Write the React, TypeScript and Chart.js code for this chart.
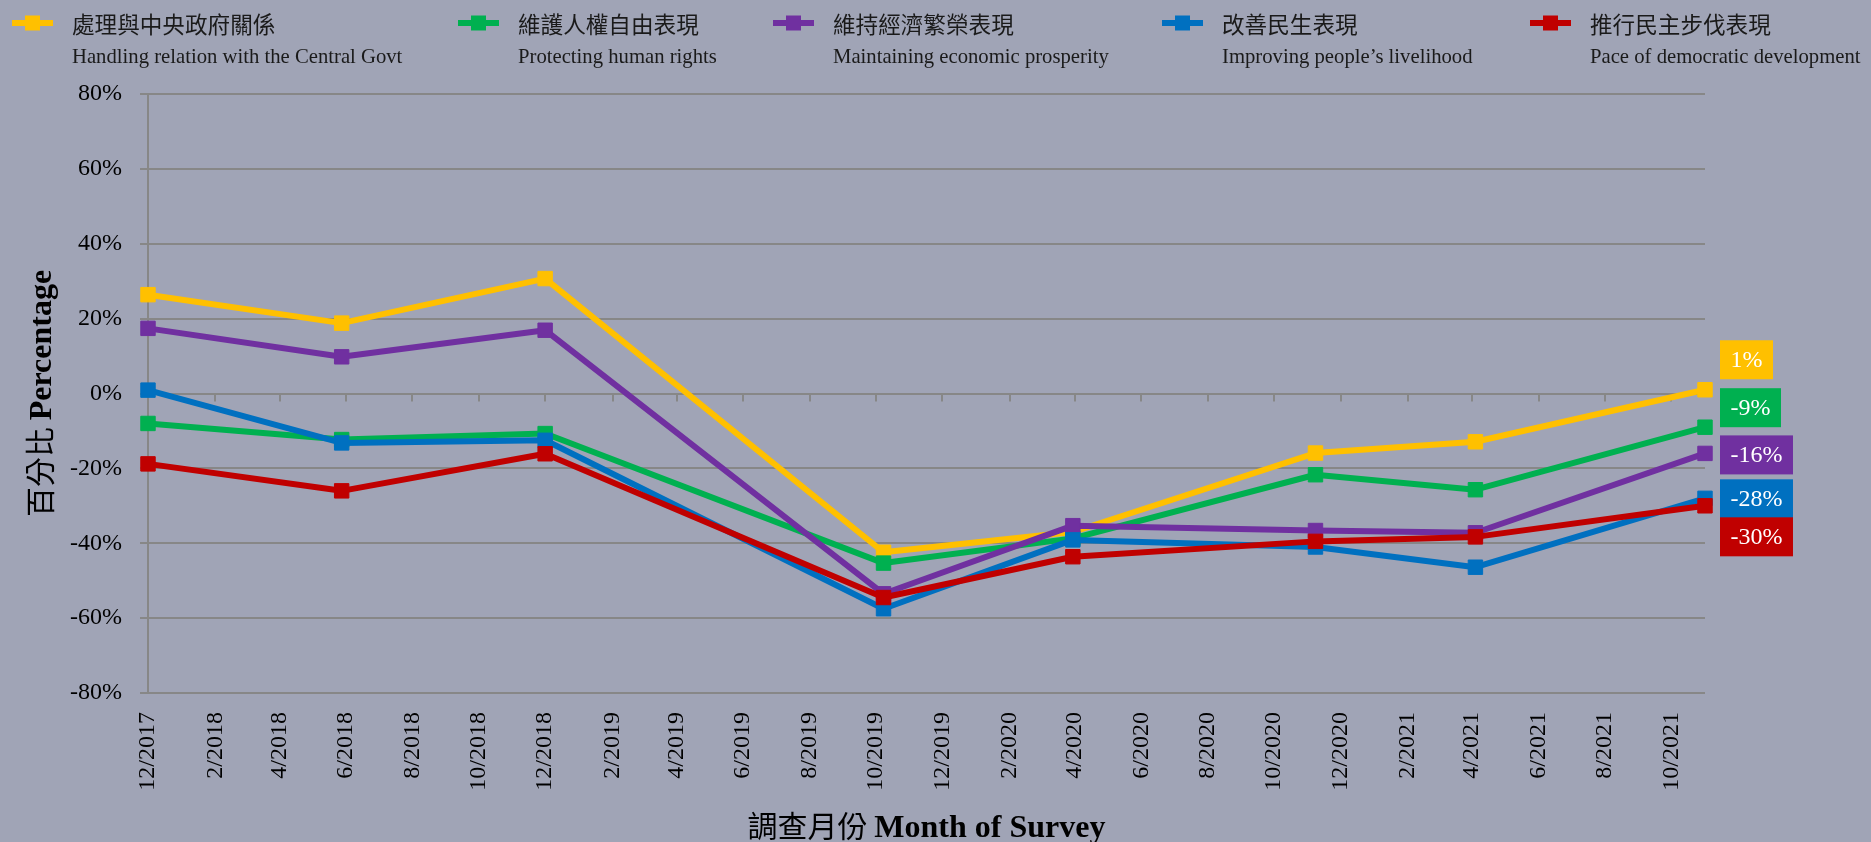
import React, { useEffect, useRef } from 'react';
import { Chart, registerables } from 'chart.js';

Chart.register(...registerables);

// ---------- data ----------
const seriesZh = ['處理與中央政府關係', '維護人權自由表現', '維持經濟繁榮表現', '改善民生表現', '推行民主步伐表現'];
const seriesEn = [
  'Handling relation with the Central Govt',
  'Protecting human rights',
  'Maintaining economic prosperity',
  'Improving people\u2019s livelihood',
  'Pace of democratic development',
];
const surveyDates = ['2017-12-15', '2018-06-11', '2018-12-15', '2019-10-22', '2020-04-13', '2020-11-22', '2021-04-18', '2021-11-15'];
const centralGovt = [26.4, 18.8, 30.7, -42.4, -37.0, -15.9, -12.9, 1.0];
const humanRights = [-8.0, -12.3, -10.7, -45.3, -38.7, -21.7, -25.7, -9.0];
const economy = [17.4, 9.8, 16.9, -53.5, -35.3, -36.6, -37.2, -16.0];
const livelihood = [0.9, -13.2, -12.5, -57.5, -39.1, -41.0, -46.4, -28.0];
const democracy = [-18.8, -26.0, -16.1, -54.5, -43.6, -39.5, -38.3, -30.0];
const tickLabels = [
  '12/2017', '2/2018', '4/2018', '6/2018', '8/2018', '10/2018', '12/2018', '2/2019', '4/2019', '6/2019', '8/2019', '10/2019',
  '12/2019', '2/2020', '4/2020', '6/2020', '8/2020', '10/2020', '12/2020', '2/2021', '4/2021', '6/2021', '8/2021', '10/2021',
];
const yMin = -80;
const yMax = 80;
const yStep = 20;
const yTitleZh = '百分比';
const yTitleEn = 'Percentage';
const xTitleZh = '調查月份';
const xTitleEn = 'Month of Survey';

// ---------- style ----------
const seriesValues = [centralGovt, humanRights, economy, livelihood, democracy];
const COLORS = ['#FFC000', '#00B050', '#7030A0', '#0070C0', '#C00000'];
const BG = '#A0A4B6';
const GRID = '#878787';
const SERIF = "'Liberation Serif', 'Times New Roman', serif";
const CJK = "'Noto Sans CJK TC', 'Noto Sans CJK SC', sans-serif";
const W = 1871;
const H = 842;
const legendX = [12, 458, 773, 1162, 1530];
const labelOffsets = [-30, -19.5, 1.5, 0.5, 31];

const DAY = 86400000;
const t0 = Date.parse(surveyDates[0]);
const toDay = (iso: string) => (Date.parse(iso) - t0) / DAY;
const tickDay = (lbl: string) => {
  const [m, y] = lbl.split('/').map(Number);
  return (Date.UTC(y, m - 1, 15) - t0) / DAY;
};
const tickDays = tickLabels.map(tickDay);
const lastDay = toDay(surveyDates[surveyDates.length - 1]);

const overlay = {
  id: 'overlay',
  beforeDraw(chart: any) {
    const { ctx } = chart;
    ctx.save();
    ctx.fillStyle = BG;
    ctx.fillRect(0, 0, chart.width, chart.height);
    ctx.restore();
  },
  beforeDatasetsDraw(chart: any) {
    const { ctx } = chart;
    const xs = chart.scales.x;
    const ys = chart.scales.y;
    const y0 = ys.getPixelForValue(0);
    ctx.save();
    ctx.strokeStyle = GRID;
    ctx.lineWidth = 2;
    ctx.beginPath();
    tickDays.forEach((d) => {
      const x = Math.round(xs.getPixelForValue(d));
      ctx.moveTo(x, y0);
      ctx.lineTo(x, y0 + 8);
    });
    ctx.stroke();
    ctx.restore();
  },
  afterDraw(chart: any) {
    const { ctx, chartArea } = chart;
    ctx.save();
    // legend
    seriesZh.forEach((zh, i) => {
      const x = legendX[i];
      const ly = 23;
      ctx.strokeStyle = COLORS[i];
      ctx.lineWidth = 6;
      ctx.beginPath();
      ctx.moveTo(x, ly);
      ctx.lineTo(x + 41, ly);
      ctx.stroke();
      ctx.fillStyle = COLORS[i];
      ctx.fillRect(x + 20.5 - 7.5, ly - 7.5, 15, 15);
      ctx.fillStyle = '#1a1a1a';
      ctx.textAlign = 'left';
      ctx.textBaseline = 'middle';
      ctx.font = `22.6px ${CJK}`;
      ctx.fillText(zh, x + 60, 24);
      ctx.textBaseline = 'alphabetic';
      ctx.font = `20.7px ${SERIF}`;
      ctx.fillText(seriesEn[i], x + 60, 63);
    });

    // axis titles
    const drawTitle = (zh: string, en: string) => {
      ctx.font = `30px ${CJK}`;
      const wZh = ctx.measureText(zh + ' ').width;
      ctx.font = `bold 32px ${SERIF}`;
      const wEn = ctx.measureText(en).width;
      const start = -(wZh + wEn) / 2;
      ctx.textAlign = 'left';
      ctx.textBaseline = 'alphabetic';
      ctx.fillStyle = '#000';
      ctx.font = `30px ${CJK}`;
      ctx.fillText(zh, start, 0);
      ctx.font = `bold 32px ${SERIF}`;
      ctx.fillText(en, start + wZh, 0);
    };
    const cx = (chartArea.left + chartArea.right) / 2;
    const cy = (chartArea.top + chartArea.bottom) / 2;
    ctx.save();
    ctx.translate(cx, 837);
    drawTitle(xTitleZh, xTitleEn);
    ctx.restore();
    ctx.save();
    ctx.translate(51, cy);
    ctx.rotate(-Math.PI / 2);
    drawTitle(yTitleZh, yTitleEn);
    ctx.restore();

    // end-point value labels
    ctx.font = `24px ${SERIF}`;
    ctx.textAlign = 'left';
    ctx.textBaseline = 'middle';
    seriesValues.forEach((vals, i) => {
      const meta = chart.getDatasetMeta(i);
      const el = meta.data[meta.data.length - 1];
      const v = vals[vals.length - 1];
      const text = `${Math.round(v)}%`;
      const tw = ctx.measureText(text).width;
      const bx = el.x + 15;
      const by = el.y + labelOffsets[i] - 19.5;
      ctx.fillStyle = COLORS[i];
      ctx.fillRect(bx, by, tw + 21, 39);
      ctx.fillStyle = '#ffffff';
      ctx.fillText(text, bx + 10.5, by + 20.5);
    });
    ctx.restore();
  },
};

export default function App() {
  const ref = useRef<HTMLCanvasElement | null>(null);
  useEffect(() => {
    const canvas = ref.current;
    if (!canvas) return;
    const chart = new Chart(canvas, {
      type: 'line',
      data: {
        datasets: seriesValues.map((vals, i) => ({
          label: seriesZh[i],
          data: vals.map((v, j) => ({ x: toDay(surveyDates[j]), y: v })),
          borderColor: COLORS[i],
          backgroundColor: COLORS[i],
          borderWidth: 6,
          borderJoinStyle: 'round',
          pointStyle: 'rect',
          pointRadius: 10.2,
          pointBorderWidth: 1,
          pointBackgroundColor: COLORS[i],
          pointBorderColor: COLORS[i],
          tension: 0,
          clip: false,
          order: seriesValues.length - i,
        })),
      },
      options: {
        responsive: false,
        animation: false,
        devicePixelRatio: 1,
        layout: { padding: { top: 94, right: 166, bottom: 0, left: 0 } },
        plugins: { legend: { display: false }, tooltip: { enabled: false } },
        events: [],
        scales: {
          x: {
            type: 'linear',
            min: 0,
            max: lastDay,
            afterBuildTicks: (axis: any) => {
              axis.ticks = tickDays.map((d) => ({ value: d }));
            },
            afterFit: (scale: any) => {
              scale.height = H - 693;
            },
            ticks: {
              autoSkip: false,
              minRotation: 90,
              maxRotation: 90,
              padding: 19,
              color: '#000',
              font: { family: SERIF, size: 24 },
              callback: (v: any) => {
                const idx = tickDays.findIndex((d) => Math.abs(d - v) < 0.5);
                return idx >= 0 ? tickLabels[idx] : '';
              },
            },
            grid: { display: false, drawTicks: false },
            border: { display: false },
          },
          y: {
            min: yMin,
            max: yMax,
            afterFit: (scale: any) => {
              scale.width = 148;
            },
            ticks: {
              stepSize: yStep,
              padding: 18,
              color: '#000',
              font: { family: SERIF, size: 24 },
              callback: (v: any) => `${v}%`,
            },
            grid: { color: GRID, lineWidth: 2, drawTicks: true, tickLength: 8 },
            border: { display: true, color: GRID, width: 2 },
          },
        },
      },
      plugins: [overlay],
    } as any);
    return () => chart.destroy();
  }, []);
  return (
    <div style={{ position: 'fixed', left: 0, top: 0, width: W, height: H, background: BG, overflow: 'hidden' }}>
      <canvas ref={ref} width={W} height={H} style={{ display: 'block', width: W, height: H }} />
    </div>
  );
}
